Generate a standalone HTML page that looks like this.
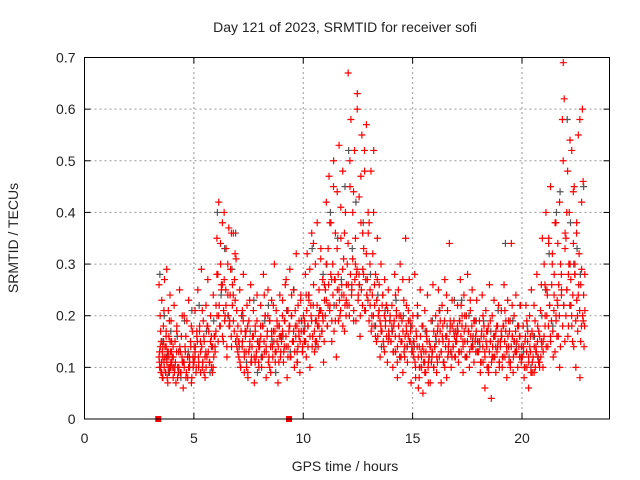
<!DOCTYPE html>
<html><head><meta charset="utf-8"><style>
body{margin:0;background:#fff;}
svg{display:block;font-family:"Liberation Sans",sans-serif;}
</style></head><body>
<svg id="chart" width="640" height="480" viewBox="0 0 640 480">
<g id="grid"></g>
<g id="marks"></g>
<rect x="84.5" y="57.5" width="525" height="361.5" fill="none" stroke="#000" stroke-width="1"/>
<g id="ticks" font-size="14" fill="#222"></g>
<text x="345" y="32" text-anchor="middle" font-size="14" fill="#222">Day 121 of 2023, SRMTID for receiver sofi</text>
<text x="345" y="471" text-anchor="middle" font-size="14" fill="#222">GPS time / hours</text>
<text transform="translate(18,238) rotate(-90)" text-anchor="middle" font-size="14" fill="#222">SRMTID / TECUs</text>
</svg>
<script>
const xTicks=[0,5,10,15,20];
const yTicks=[0,0.1,0.2,0.3,0.4,0.5,0.6,0.7];
const yTickLabels=["0","0.1","0.2","0.3","0.4","0.5","0.6","0.7"];
const rowHours=[3.4,4,5,6,7,8,9,10,11,12,13,14,15,16,17,18,19,20,21,22];
const rowSpan=[0.6,1,1,1,1,1,1,1,1,1,1,1,1,1,1,1,1,1,1,0.9];
const redRows=[
[26,13,20,10,15,23,8,12,18,11,27,14,9,17,29,12,7,21,16,10,24,13,19,11],
[12,8,22,15,7,18,10,13,25,9,16,11,6,20,14,8,19,12,23,10,15,7,17,11],
[14,21,9,16,25,11,18,13,29,10,19,15,8,22,12,27,17,11,20,14,9,24,16,13],
[22,35,28,42,18,30,25,38,15,27,20,33,12,24,37,19,29,14,26,36,17,23,31,16],
[18,12,25,10,20,15,28,9,17,13,22,8,19,14,26,11,16,21,7,18,12,24,15,10],
[15,22,10,18,28,13,20,8,16,25,12,19,9,23,14,17,30,11,21,15,7,18,24,13],
[16,23,11,19,26,14,8,21,17,29,12,20,15,25,10,18,32,13,22,16,9,24,19,14],
[20,15,28,12,32,18,24,10,22,36,16,26,13,30,19,38,14,25,21,33,17,27,11,23],
[25,42,18,33,47,22,38,15,30,50,27,36,12,44,28,53,20,35,24,48,31,17,40,26],
[30,67,22,45,58,26,40,19,52,35,28,63,24,43,16,38,55,29,33,48,21,57,27,36],
[38,25,48,18,32,52,22,28,15,35,20,26,12,30,17,24,14,27,19,22,11,25,16,20],
[15,22,10,18,28,13,20,8,25,16,30,12,19,9,23,14,35,17,11,21,27,15,7,18],
[20,12,28,8,16,22,6,14,25,10,18,5,13,21,9,17,24,11,15,7,19,13,26,10],
[14,20,9,17,25,12,19,7,22,15,11,27,16,8,21,13,34,18,10,23,14,19,12,17],
[16,22,11,19,27,13,20,9,24,15,18,12,28,17,10,21,14,25,16,11,19,13,23,15],
[13,19,9,16,24,11,18,6,21,14,17,10,26,15,4,20,12,23,16,9,18,14,22,11],
[15,21,10,18,26,12,19,8,23,14,17,11,34,16,9,20,13,24,15,10,18,12,22,14],
[12,18,8,15,22,10,17,6,20,13,25,11,16,9,19,14,28,12,17,10,21,15,35,13],
[30,18,40,25,14,35,22,45,19,32,12,28,38,20,16,34,26,10,30,24,58,69,62,36],
[35,25,48,18,40,30,22,52,15,34,45,28,10,38,20,55,32,8,26,42,60,19,14,21]
];
const redRowsB=[
[11,17,9,14,21,12,16,8,13,19,10,15],
[14,10,17,9,13,20,11,16,8,12,18,10],
[12,17,10,15,21,9,13,18,11,16,10,14],
[28,20,34,26,40,22,30,18,36,24,32,14],
[15,10,21,13,17,9,23,12,16,11,19,14],
[18,12,24,14,20,10,17,22,13,19,11,16],
[20,14,27,12,18,24,15,21,11,17,23,13],
[17,24,14,29,19,34,15,22,18,31,20,26],
[30,22,38,27,45,19,33,25,41,29,36,23],
[34,50,25,44,30,60,28,47,36,52,32,40],
[30,20,40,16,27,21,18,24,13,22,15,19],
[18,13,24,11,20,15,27,12,22,16,19,14],
[15,10,20,8,13,18,11,16,7,14,12,17],
[16,11,21,13,18,10,24,14,19,12,17,15],
[18,13,22,15,20,12,17,23,14,19,16,13],
[15,11,20,13,17,9,19,12,16,14,18,10],
[17,12,21,14,19,10,22,15,13,18,16,11],
[14,10,19,12,16,9,22,13,18,11,26,15],
[26,20,34,16,30,24,38,22,42,28,50,33],
[40,28,54,20,44,30,36,24,58,18,46,28]
];
const redRowsC=[
[12,10,14,9,11,13,8,15,10,12,9,14,11,13,10,12,9,15,11,13],
[10,12,9,11,13,8,10,14,9,12,11,10,13,9,12,10,11,14,8,12],
[11,13,10,15,12,17,9,14,11,16,12,10,18,13,11,15,10,14,12,16],
[17,20,15,22,18,26,16,21,19,25,14,20,18,24,16,22,19,27,15,21],
[13,15,11,17,14,19,12,16,10,18,13,15,11,14,16,12,17,13,15,11],
[14,16,12,18,15,20,13,17,11,19,14,16,12,15,17,13,18,14,16,12],
[15,17,13,19,16,21,14,18,12,20,15,17,13,16,18,14,19,15,17,13],
[17,19,15,21,18,23,16,20,14,22,17,19,15,18,20,16,21,17,19,15],
[20,23,18,26,21,28,19,24,17,27,22,25,19,23,21,26,18,24,22,20],
[22,26,20,28,24,31,21,27,19,29,23,26,20,25,22,28,21,27,24,23],
[19,22,17,24,20,26,18,23,16,21,19,17,22,15,20,18,16,21,17,19],
[15,17,13,19,16,21,14,18,12,20,15,17,13,16,18,14,19,15,17,13],
[13,15,11,17,14,12,10,16,12,14,11,9,13,15,10,12,14,11,13,10],
[14,16,12,18,15,17,13,16,11,19,14,16,12,15,17,13,18,14,16,12],
[15,17,13,19,16,18,14,17,12,20,15,17,13,16,18,14,19,15,17,13],
[13,15,11,17,14,16,12,15,10,18,13,15,11,14,16,12,17,13,15,11],
[14,16,12,18,15,17,13,16,11,19,14,16,12,15,17,13,18,14,16,12],
[12,14,10,16,13,15,11,14,9,17,12,14,10,13,15,11,16,12,14,10],
[16,20,14,24,18,22,15,26,17,21,13,19,23,16,20,14,25,18,22,15],
[20,25,16,30,22,27,18,24,14,28,19,23,17,26,21,15,29,20,24,18]
];
const greyRows=[
[28,15,20,12,9,17],[10,16,8,19,13,21],[14,22,11,17,9,19],[40,24,33,20,29,36],
[14,20,11,17,23,9],[12,19,22,15,9,18],[16,21,13,25,11,19],[18,24,33,14,21,28],
[30,40,22,35,27,45],[52,33,42,26,38,24],[28,18,24,14,21,16],[17,23,12,20,14,18],
[14,20,10,17,12,19],[15,21,11,18,13,23],[17,23,12,20,15,19],[14,19,10,17,12,21],
[16,34,12,19,14,22],[13,18,10,16,12,20],[25,32,18,40,44,22],[58,38,30,33,28,45]
];
const axisMarkers=[3.37,9.35];

const X0=84.5,X1=609.5,Y0=419,Y1=57.5,XMAX=24,YMAX=0.7;
const xs=h=>X0+(h/XMAX)*(X1-X0);
const ys=v=>Y0-(v/YMAX)*(Y0-Y1);
const NS="http://www.w3.org/2000/svg";
const grid=document.getElementById('grid'),marks=document.getElementById('marks'),ticks=document.getElementById('ticks');
function mk(tag,attrs,parent){const e=document.createElementNS(NS,tag);for(const k in attrs)e.setAttribute(k,attrs[k]);parent.appendChild(e);return e;}
xTicks.forEach(t=>{
  const x=xs(t);
  if(t>0){const g=mk('line',{x1:x,y1:Y0,x2:x,y2:Y1,stroke:'#999','stroke-dasharray':'2,3'},grid);
  
  }
  const tm=mk('line',{x1:x,y1:Y0,x2:x,y2:Y0-6,stroke:'#000'},grid);
  
  
  const tm2=mk('line',{x1:x,y1:Y1,x2:x,y2:Y1+6,stroke:'#000'},grid);
  
  
  const l=mk('text',{x:x,y:443,'text-anchor':'middle'},ticks);l.textContent=String(t);
  
  
});
yTicks.forEach((t,i)=>{
  const y=ys(t);
  if(t>0&&t<YMAX){const g=mk('line',{x1:X0,y1:y,x2:X1,y2:y,stroke:'#999','stroke-dasharray':'2,3'},grid);
  
  }
  const tm=mk('line',{x1:X0,y1:y,x2:X0+6,y2:y,stroke:'#000'},grid);
  
  
  const tm2=mk('line',{x1:X1,y1:y,x2:X1-6,y2:y,stroke:'#000'},grid);
  
  
  const l=mk('text',{x:X0-9,y:y+5,'text-anchor':'end'},ticks);l.textContent=yTickLabels[i];
  
  
});
function cross(h,v,color,name){
  const x=xs(h),y=ys(v);
  const p=mk('path',{d:`M${x-3.5},${y}H${x+3.5}M${x},${y-3.5}V${y+3.5}`,stroke:color,'stroke-width':1.2,fill:'none'},marks);
  
  
}
function drawRows(rows,color,name,offset){
  rows.forEach((row,r)=>{
    const h0=rowHours[r],span=rowSpan[r];
    row.forEach((v,i)=>cross(h0+span*(i+offset)/row.length,v/100,color,name));
  });
}
drawRows(greyRows,'#555555','grey-point',0.45);
drawRows(redRows,'#ff0000','red-point',0.3);
drawRows(redRowsB,'#ff0000','red-point',0.6);
drawRows(redRowsC,'#ff0000','red-point',0.15);
axisMarkers.forEach(h=>{
  const r=mk('rect',{x:xs(h)-3,y:Y0-3,width:6,height:6,fill:'#ff0000'},marks);
  
  
});
</script>
</body></html>
